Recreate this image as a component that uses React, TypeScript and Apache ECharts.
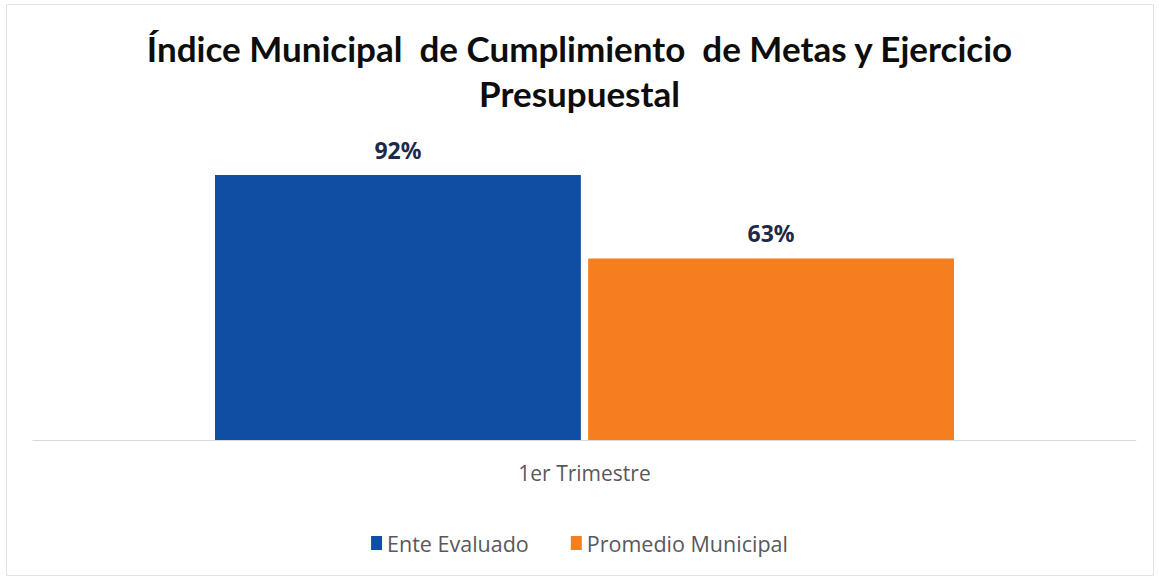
import React, { useEffect, useRef } from "react";
import * as echarts from "echarts";

const titleLines = ["Índice Municipal  de Cumplimiento  de Metas y Ejercicio", "Presupuestal"];
const categories = ["1er Trimestre"];
const seriesNames = ["Ente Evaluado", "Promedio Municipal"];
const enteEvaluado = [0.92];
const promedioMunicipal = [0.63];
const seriesColors = ["#0f4ea3", "#f57f1f"];

export default function App() {
  const ref = useRef<HTMLDivElement>(null);
  useEffect(() => {
    if (!ref.current) return;
    const chart = echarts.init(ref.current, null, { renderer: "svg" });
    const label = {
      show: true,
      position: "top",
      distance: 14,
      formatter: (p: any) => Math.round(p.value * 100) + "%",
      fontFamily: "Noto Sans",
      fontWeight: "bold",
      fontSize: 23,
      color: "#1c2a48",
    };
    chart.setOption({
      animation: false,
      backgroundColor: "#ffffff",
      title: {
        text: titleLines.join("\n"),
        left: "center",
        top: 20,
        textStyle: {
          fontFamily: "Lato",
          fontWeight: "bold",
          fontSize: 35,
          lineHeight: 45,
          color: "#0d0d0d",
        },
      },
      legend: {
        bottom: 21,
        left: "center",
        itemWidth: 11,
        itemHeight: 14,
        itemGap: 42,
        icon: "rect",
        textStyle: { fontFamily: "Open Sans", fontSize: 21.5, color: "#595959" },
        data: seriesNames,
      },
      grid: { left: 33, right: 23, top: 152, bottom: 140 },
      xAxis: {
        type: "category",
        data: categories,
        axisLine: { show: true, lineStyle: { color: "#d9d9d9", width: 1 } },
        axisTick: { show: false },
        axisLabel: { fontFamily: "Open Sans", fontSize: 21, color: "#595959", margin: 22 },
      },
      yAxis: {
        type: "value",
        min: 0,
        max: 1,
        show: false,
        splitLine: { show: false },
      },
      series: [
        {
          name: seriesNames[0],
          type: "bar",
          data: enteEvaluado,
          itemStyle: { color: seriesColors[0] },
          barGap: "2%",
          barCategoryGap: "33%",
          label,
        },
        {
          name: seriesNames[1],
          type: "bar",
          data: promedioMunicipal,
          itemStyle: { color: seriesColors[1] },
          barGap: "2%",
          barCategoryGap: "33%",
          label,
        },
      ],
      graphic: [
        {
          type: "rect",
          shape: { x: 6.5, y: 4.5, width: 1147, height: 571 },
          style: { fill: "none", stroke: "#e3e3e3", lineWidth: 1 },
          silent: true,
          z: -1,
        },
      ],
    });
    return () => chart.dispose();
  }, []);
  return (
    <div
      ref={ref}
      style={{ position: "absolute", left: 0, top: 0, width: 1159, height: 580 }}
    />
  );
}
